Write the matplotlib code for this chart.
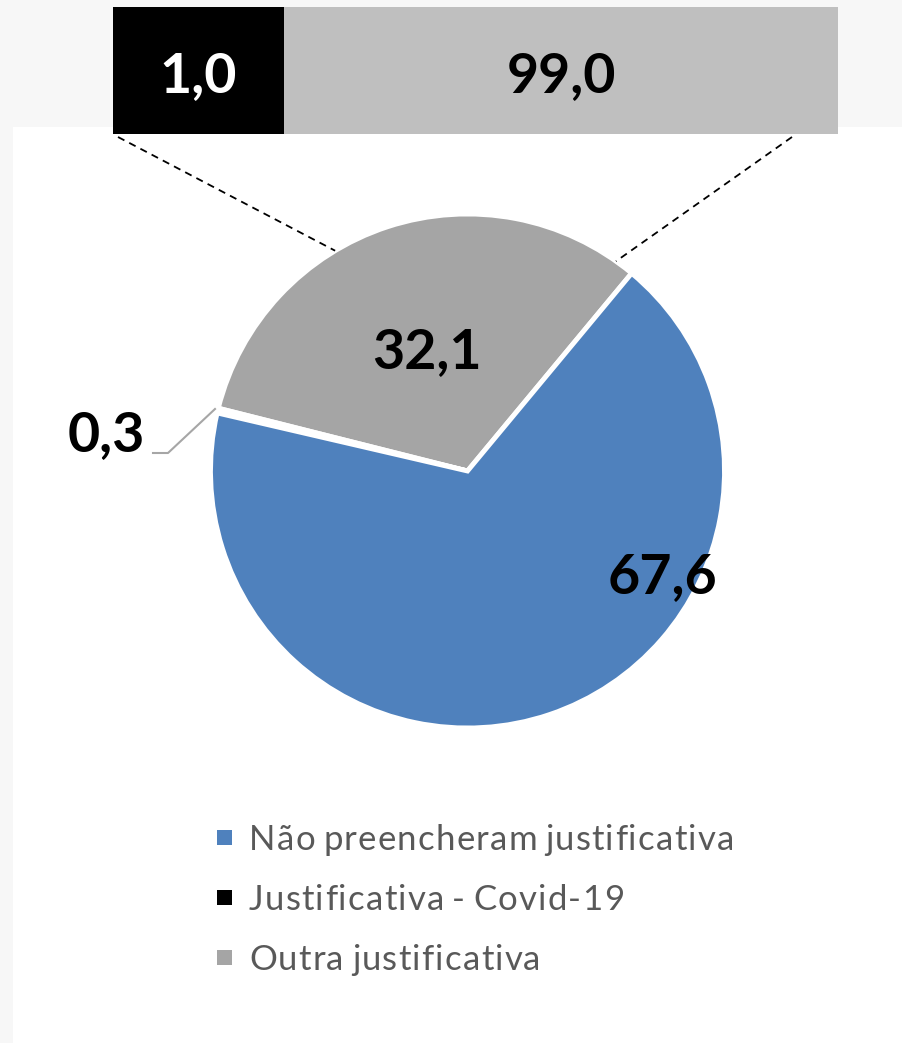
import numpy as np
import matplotlib
matplotlib.use("Agg")
import matplotlib.pyplot as plt
from matplotlib.patches import Rectangle

# data
pie_labels = ["Outra justificativa", "Justificativa - Covid-19", "Não preencheram justificativa"]
pie_values = [32.1, 0.3, 67.6]
pie_colors = ["#a5a5a5", "#ffffff", "#4f81bd"]
bar_values = [1.0, 99.0]
bar_colors = ["#000000", "#bfbfbf"]
legend_labels = ["Não preencheram justificativa", "Justificativa - Covid-19", "Outra justificativa"]
legend_colors = ["#4f81bd", "#000000", "#a5a5a5"]

W, H = 902, 1043
plt.rcParams['font.family'] = ['Lato', 'DejaVu Sans']

fig = plt.figure(figsize=(W / 100, H / 100), dpi=100)
fig.patch.set_facecolor("#f7f7f7")
ax = fig.add_axes([0, 0, 1, 1])
ax.set_xlim(0, W)
ax.set_ylim(0, H)
renderer = fig.canvas.get_renderer()

def fy(y):
    # pixel row from top -> axes y
    return H - y

# white panel
ax.add_patch(Rectangle((13, 0), W - 13, fy(127), facecolor="white", edgecolor="none", zorder=0))

# pie
cx, cy, R = 467.5, fy(471), 257
start = 50.3
ax.pie(pie_values, colors=pie_colors, startangle=start, counterclock=True,
       center=(cx, cy), radius=R,
       wedgeprops=dict(edgecolor="white", linewidth=3.5))

def fmt(v):
    return f"{v:.1f}".replace(".", ",")

# slice labels
ax.text(427, fy(352), fmt(pie_values[0]), ha="center", va="center",
        fontsize=40, fontweight="bold", color="black")
ax.text(663, fy(577), fmt(pie_values[2]), ha="center", va="center",
        fontsize=40, fontweight="bold", color="black")
ax.text(106, fy(435), fmt(pie_values[1]), ha="center", va="center",
        fontsize=40, fontweight="bold", color="black")
ax.plot([153, 168, 215], [fy(453), fy(453), fy(409)], color="#a6a6a6", lw=1.5)

# bar of the gray slice (display widths as in reference)
bar_left, bar_top, bar_bottom = 113, 7, 134
bar_widths = [171, 554]
x0 = bar_left
for v, w, c in zip(bar_values, bar_widths, bar_colors):
    ax.add_patch(Rectangle((x0, fy(bar_bottom)), w, bar_bottom - bar_top,
                           facecolor=c, edgecolor="none", zorder=3))
    ax.text(x0 + w / 2, fy(76), fmt(v), ha="center", va="center", fontsize=40,
            fontweight="bold", color="white" if c == "#000000" else "black", zorder=4)
    x0 += w

# connector lines
a1, a2 = np.radians(121), np.radians(54.7)
ax.plot([118, cx + R * np.cos(a1)], [fy(137), cy + R * np.sin(a1)],
        color="black", lw=1.3, ls=(0, (4, 3)))
ax.plot([792, cx + R * np.cos(a2)], [fy(137), cy + R * np.sin(a2)],
        color="black", lw=1.3, ls=(0, (4, 3)))

# legend, slightly letter-spaced text like the original
def spaced_text(x, y, s, track, **kw):
    for ch in s:
        t = ax.text(x, y, ch, **kw)
        w = t.get_window_extent(renderer).width if ch != " " else 6
        x += w + track

for i, (lab, col) in enumerate(zip(legend_labels, legend_colors)):
    base = 850 + 60 * i
    ax.add_patch(Rectangle((217, fy(base - 5)), 15, 15, facecolor=col, edgecolor="none"))
    spaced_text(249, fy(base), lab, 1.2, ha="left", va="baseline", fontsize=25, color="#595959")

ax.set_xlim(0, W)
ax.set_ylim(0, H)
ax.set_aspect("auto")
ax.axis("off")

fig.savefig("out.png", dpi=100, facecolor=fig.get_facecolor())
